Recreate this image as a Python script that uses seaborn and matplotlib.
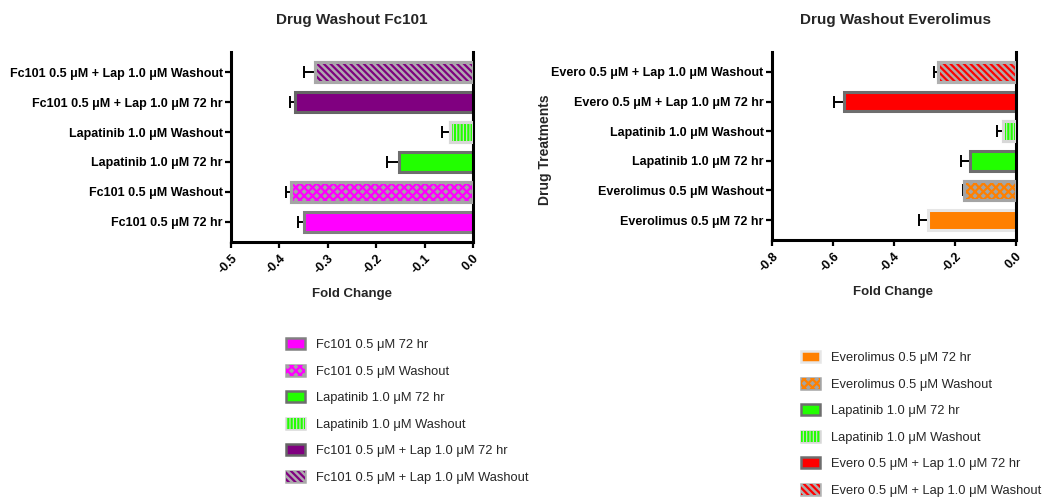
import numpy as np
import pandas as pd
import matplotlib
matplotlib.use("Agg")
import matplotlib.pyplot as plt
import seaborn as sns
from matplotlib.patches import Rectangle
from matplotlib.legend_handler import HandlerTuple

# ---- data (listed bottom-to-top, same order as the legends) ----
fc_labels = [
    "Fc101 0.5 μM 72 hr",
    "Fc101 0.5 μM Washout",
    "Lapatinib 1.0 μM 72 hr",
    "Lapatinib 1.0 μM Washout",
    "Fc101 0.5 μM + Lap 1.0 μM 72 hr",
    "Fc101 0.5 μM + Lap 1.0 μM Washout",
]
fc_mean = [-0.349, -0.377, -0.153, -0.048, -0.368, -0.327]
fc_sem = [0.013, 0.010, 0.024, 0.017, 0.010, 0.022]

ev_labels = [
    "Everolimus 0.5 μM 72 hr",
    "Everolimus 0.5 μM Washout",
    "Lapatinib 1.0 μM 72 hr",
    "Lapatinib 1.0 μM Washout",
    "Evero 0.5 μM + Lap 1.0 μM 72 hr",
    "Evero 0.5 μM + Lap 1.0 μM Washout",
]
ev_mean = [-0.287, -0.171, -0.151, -0.043, -0.563, -0.256]
ev_sem = [0.032, 0.003, 0.028, 0.020, 0.034, 0.014]

fc_xticks = [-0.5, -0.4, -0.3, -0.2, -0.1, 0.0]
ev_xticks = [-0.8, -0.6, -0.4, -0.2, 0.0]

# ---- bar styles: fill, border, optional hatch and hatch colour ----
fc_styles = [
    dict(face="#ff00ff", edge="#808080"),
    dict(face="#a4a4a4", edge="#a4a4a4", hatch="xxxx", hcolor="#ff00ff"),
    dict(face="#22ff00", edge="#6e6e6e"),
    dict(face="#d8d8d8", edge="#d8d8d8", hatch="|||||", hcolor="#22ff00"),
    dict(face="#800080", edge="#666666"),
    dict(face="#b0a8b0", edge="#a8a8a8", hatch="\\\\\\\\\\", hcolor="#800080"),
]
ev_styles = [
    dict(face="#ff8000", edge="#e6e6e6"),
    dict(face="#a4a4a4", edge="#a4a4a4", hatch="xxxx", hcolor="#ff8000"),
    dict(face="#22ff00", edge="#6e6e6e"),
    dict(face="#d8d8d8", edge="#d8d8d8", hatch="|||||", hcolor="#22ff00"),
    dict(face="#ff0000", edge="#6e6e6e"),
    dict(face="#b0a8a8", edge="#b0b0b0", hatch="\\\\\\\\\\", hcolor="#ff0000"),
]

sns.set_style("ticks")
plt.rcParams["font.family"] = ["Liberation Sans", "DejaVu Sans"]
plt.rcParams["hatch.linewidth"] = 1.6

BAR_W = 0.67
EDGE_LW = 2.2


def draw_panel(ax, labels, means, sems, styles, xticks):
    order = labels[::-1]  # top to bottom on the axis
    df = pd.DataFrame({"treatment": labels, "fold": means})
    palette = {lab: st["face"] for lab, st in zip(labels, styles)}
    sns.barplot(data=df, x="fold", y="treatment", order=order, hue="treatment",
                hue_order=order, palette=palette, orient="h", width=BAR_W,
                saturation=1, legend=False, errorbar=None, ax=ax)
    style_of = dict(zip(labels, styles))
    for p in ax.patches:
        idx = int(round(p.get_y() + p.get_height() / 2))
        st = style_of[order[idx]]
        p.set_edgecolor(st["edge"])
        p.set_linewidth(EDGE_LW)
        p.set_zorder(2)

    pos = np.array([order.index(lab) for lab in labels])
    means = np.asarray(means)
    # hatch overlays for the washout bars, then their border on top
    for i, st in enumerate(styles):
        if "hatch" in st:
            ax.barh(pos[i], means[i], height=BAR_W, facecolor="none",
                    edgecolor=st["hcolor"], linewidth=0, hatch=st["hatch"], zorder=2.5)
            ax.barh(pos[i], means[i], height=BAR_W, facecolor="none",
                    edgecolor=st["edge"], linewidth=EDGE_LW, zorder=3)

    # one-sided error bars pointing away from zero
    ax.errorbar(means, pos, xerr=[np.asarray(sems), np.zeros(len(sems))], fmt="none",
                ecolor="black", elinewidth=1.4, capsize=4.5, capthick=1.4, zorder=1.5)

    ax.set_xlim(xticks[0], 0)
    ax.set_ylim(len(labels) - 1 + 0.67, -0.67)
    ax.set_xticks(xticks)
    ax.set_xticklabels([f"{t:.1f}" for t in xticks], rotation=45, ha="right",
                       va="top", rotation_mode="anchor", fontweight="bold", fontsize=9)
    for t in ax.get_yticklabels():
        t.set_fontweight("bold")
        t.set_fontsize(9)
    ax.set_xlabel("")
    ax.set_ylabel("")
    for side in ("left", "bottom", "right"):
        ax.spines[side].set_visible(True)
        ax.spines[side].set_color("black")
        ax.spines[side].set_linewidth(2.2)
    ax.spines["top"].set_visible(False)
    ax.tick_params(axis="both", direction="out", length=4.5, width=1.6,
                   color="black", labelcolor="black", pad=1.5)
    ax.tick_params(axis="x", pad=3)

    handles = []
    for st in styles:
        base = Rectangle((0, 0), 1, 1, facecolor=st["face"], edgecolor=st["edge"], linewidth=1.8)
        if "hatch" in st:
            hat = Rectangle((0, 0), 1, 1, facecolor="none", edgecolor=st["hcolor"],
                            linewidth=0, hatch=st["hatch"])
            handles.append((base, hat))
        else:
            handles.append(base)
    return handles


fig = plt.figure(figsize=(10.58, 4.97), dpi=100)
W, H = 1058, 497
ax1 = fig.add_axes([231 / W, 255 / H, 242 / W, 190 / H])
ax2 = fig.add_axes([772 / W, 257 / H, 244 / W, 188 / H])

h1 = draw_panel(ax1, fc_labels, fc_mean, fc_sem, fc_styles, fc_xticks)
h2 = draw_panel(ax2, ev_labels, ev_mean, ev_sem, ev_styles, ev_xticks)

fig.text(352 / W, 1 - 20 / H, "Drug Washout Fc101", ha="center", va="center",
         fontsize=11, fontweight="bold")
fig.text(895 / W, 1 - 20 / H, "Drug Washout Everolimus", ha="center", va="center",
         fontsize=11, fontweight="bold")
fig.text(352 / W, 1 - 294 / H, "Fold Change", ha="center", va="center",
         fontsize=9.5, fontweight="bold")
fig.text(893 / W, 1 - 292 / H, "Fold Change", ha="center", va="center",
         fontsize=9.5, fontweight="bold")
fig.text(545 / W, 1 - 150 / H, "Drug Treatments", ha="center", va="center",
         rotation=90, fontsize=10, fontweight="bold")

legend_kw = dict(loc="upper left", frameon=False, fontsize=9.3, handlelength=1.5,
                 handleheight=0.95, handletextpad=0.8, labelspacing=1.05,
                 borderpad=0, borderaxespad=0,
                 handler_map={tuple: HandlerTuple(ndivide=1, pad=0)})
fig.legend(h1, fc_labels, bbox_to_anchor=(286 / W, 1 - 338 / H), **legend_kw)
fig.legend(h2, ev_labels, bbox_to_anchor=(801 / W, 1 - 351 / H), **legend_kw)

fig.savefig("out.png", dpi=100)
